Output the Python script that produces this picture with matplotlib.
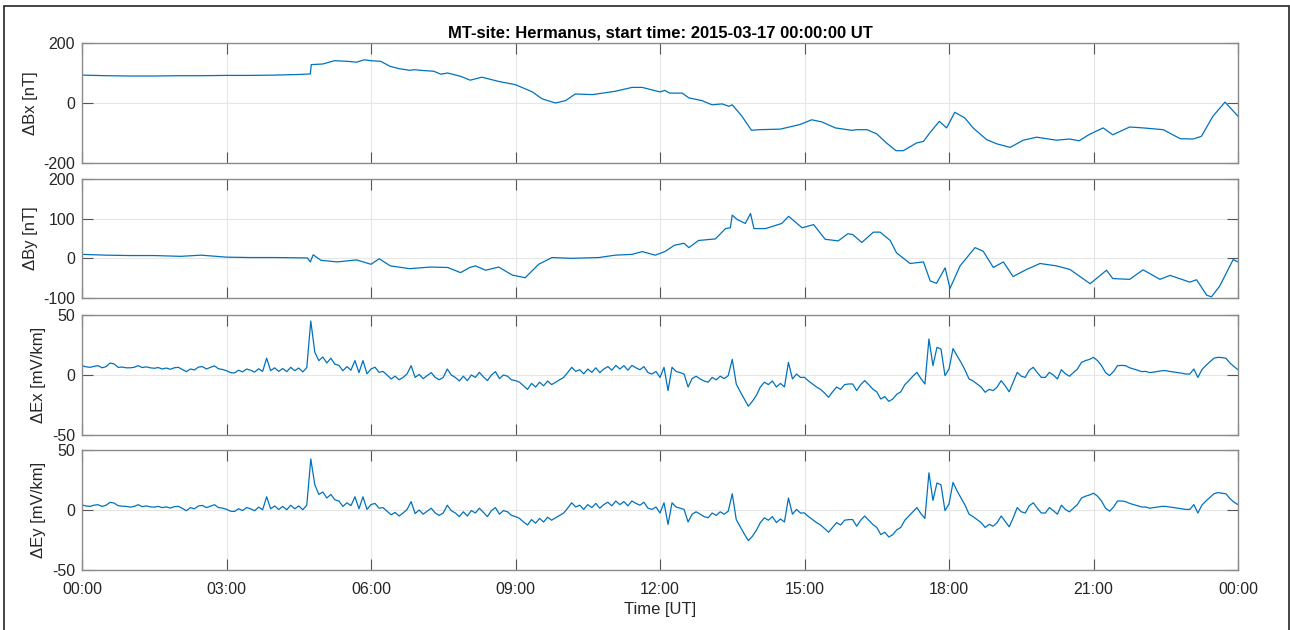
import numpy as np
import matplotlib.pyplot as plt
from matplotlib.patches import Rectangle

plt.rcParams['font.family'] = ['Liberation Sans', 'DejaVu Sans']
plt.rcParams['axes.unicode_minus'] = False

title = 'MT-site: Hermanus, start time: 2015-03-17 00:00:00 UT'
tick_hours = [0, 3, 6, 9, 12, 15, 18, 21, 24]
tick_labels = ['00:00', '03:00', '06:00', '09:00', '12:00', '15:00', '18:00', '21:00', '00:00']

# magnetic field, hours since start
bx_hours = [0, 0.5, 1, 1.5, 2, 2.5, 3, 3.5, 4, 4.5, 4.74, 4.76, 5.0, 5.24, 5.5, 5.7,
            5.86, 6.0, 6.2, 6.4, 6.6, 6.8, 6.9, 7.1, 7.3, 7.45, 7.59, 7.86, 8.06, 8.3,
            8.65, 9.0, 9.35, 9.55, 9.83, 10.04, 10.24, 10.6, 11.07, 11.42, 11.63, 12.0,
            12.1, 12.2, 12.46, 12.6, 12.87, 13.08, 13.29, 13.43, 13.5, 13.7, 13.9, 14.05,
            14.5, 14.9, 15.15, 15.36, 15.64, 15.98, 16.08, 16.3, 16.5, 16.7, 16.9, 17.05,
            17.33, 17.47, 17.6, 17.8, 17.95, 18.12, 18.33, 18.5, 18.78, 18.99, 19.27,
            19.54, 19.82, 20.23, 20.5, 20.7, 20.9, 21.2, 21.4, 21.75, 22.03, 22.45, 22.8,
            23.07, 23.24, 23.48, 23.73, 24.0]
bx_values = [93, 91, 90, 90, 91, 91, 92, 92, 93, 95, 97, 128, 130, 141, 139, 136,
             144, 141, 139, 122, 114, 109, 111, 108, 106, 96, 100, 89, 76, 86,
             72, 61, 37, 14, 0, 8, 30, 28, 39, 52, 52, 37,
             42, 33, 33, 17, 8, -6, -3, -11, -6, -44, -91, -89,
             -87, -72, -56, -63, -83, -91, -89, -89, -103, -133, -159, -159,
             -133, -128, -100, -61, -83, -31, -50, -83, -122, -136, -148,
             -124, -114, -124, -120, -126, -106, -83, -106, -80, -83, -89, -119,
             -120, -111, -44, 3, -44]

by_hours = [0, 0.5, 1, 1.5, 2.05, 2.47, 3, 3.5, 4, 4.68, 4.74, 4.8, 4.96, 5.3, 5.7,
            6.0, 6.17, 6.4, 6.8, 7.24, 7.59, 7.86, 8.05, 8.17, 8.38, 8.65, 8.93, 9.2,
            9.48, 9.76, 10.18, 10.73, 11.07, 11.42, 11.63, 11.9, 12.1, 12.3, 12.5, 12.6,
            12.8, 13.15, 13.36, 13.46, 13.5, 13.6, 13.77, 13.88, 13.95, 14.19, 14.53,
            14.67, 14.95, 15.19, 15.43, 15.7, 15.9, 16.0, 16.19, 16.43, 16.57, 16.78,
            16.91, 17.19, 17.47, 17.61, 17.74, 17.92, 18.02, 18.23, 18.54, 18.71, 18.92,
            19.13, 19.33, 19.61, 19.89, 20.23, 20.51, 20.93, 21.27, 21.4, 21.75, 22.03,
            22.38, 22.59, 23.0, 23.14, 23.35, 23.45, 23.62, 23.9, 24.0]
by_values = [10, 8, 7, 7, 5, 8, 3, 2, 2, 1, -9, 9, -5, -9, -4,
             -15, -1, -19, -26, -22, -23, -36, -23, -19, -30, -22, -42, -49,
             -15, 2, 0, 2, 8, 10, 17, 8, 17, 33, 38, 27,
             45, 49, 75, 77, 109, 98, 88, 113, 75, 75, 88,
             106, 77, 85, 48, 44, 62, 60, 40, 66, 66, 45,
             14, -13, -9, -57, -63, -24, -76, -19, 27, 18, -23,
             -9, -46, -28, -13, -19, -28, -64, -30, -51, -53, -29,
             -53, -43, -60, -54, -93, -97, -70, -3, -9]

# electric field, 5-minute samples (one row per hour)
e_minutes = np.arange(0, 24 * 60 + 1, 5)
ex_values = [
    7.8, 6.8, 6.4, 7.2, 7.8, 6.0, 7.0, 10.0, 9.2, 6.4, 6.6, 6.0,
    6.0, 6.4, 7.8, 6.2, 6.8, 6.0, 5.6, 6.2, 5.0, 5.8, 4.8, 6.0,
    6.4, 4.6, 2.8, 5.0, 4.2, 6.6, 7.0, 5.0, 6.4, 7.6, 5.2, 4.6,
    3.6, 2.0, 1.7, 4.0, 2.6, 5.0, 4.0, 2.4, 5.2, 3.0, 14.0, 3.6,
    6.0, 3.0, 5.4, 2.8, 6.4, 3.6, 5.8, 2.6, 6.2, 45.0, 19.0, 12.0,
    15.0, 10.0, 14.0, 9.0, 8.0, 3.6, 7.0, 4.0, 12.0, 2.0, 12.0, 1.0,
    5.0, 6.5, 2.2, 3.0, 0.0, -3.3, -1.0, -4.0, -2.0, 1.0, 7.8, -2.0,
    0.5, -3.0, -0.5, 2.0, -2.0, -4.0, -2.0, 5.0, 0.0, -2.0, -5.0, -1.0,
    -4.7, 0.0, -2.0, 2.2, -1.5, -4.7, 0.0, 2.8, -3.0, 0.0, -1.0, -4.0,
    -4.7, -6.0, -9.0, -12.0, -7.0, -10.0, -6.0, -9.0, -5.0, -8.0, -6.0, -4.0,
    -2.0, 2.0, 6.4, 3.0, 4.4, 1.0, 5.0, 2.2, 6.0, 2.0, 5.0, 7.0,
    4.0, 8.0, 5.0, 7.8, 4.0, 8.0, 6.0, 4.4, 7.0, 2.0, 0.8, 3.0,
    -2.0, 6.4, -13.0, 6.4, 3.0, 2.0, 0.8, -10.0, -3.0, -1.0, -3.3, -5.0,
    -6.0, -2.0, -4.0, -1.0, -3.0, -0.5, 13.0, -7.5, -14.0, -20.0, -26.0, -22.0,
    -17.0, -10.0, -6.0, -8.0, -5.0, -10.0, -7.0, -10.0, 10.5, -3.3, 0.8, -2.0,
    -2.0, -5.0, -7.5, -10.0, -12.0, -15.0, -18.6, -14.0, -10.0, -12.0, -8.0, -7.5,
    -7.5, -13.0, -8.0, -4.7, -8.0, -11.7, -14.0, -20.0, -18.0, -22.0, -20.0, -16.0,
    -14.0, -8.0, -4.7, -1.0, 2.2, -3.0, -7.5, 30.0, 7.8, 23.0, 21.7, -0.5,
    5.0, 22.0, 16.0, 10.5, 4.0, -3.3, -5.0, -7.5, -10.0, -14.4, -12.0, -13.0,
    -10.0, -4.7, -9.0, -14.0, -6.0, 2.2, -1.0, -2.0, 4.0, 6.4, 2.0, -2.0,
    -2.0, 2.2, 0.0, -3.3, 4.4, 1.0, -1.0, 2.0, 5.0, 10.5, 12.0, 13.0,
    14.7, 12.0, 7.8, 2.0, -0.5, 3.0, 7.8, 8.0, 7.8, 6.0, 5.0, 4.0,
    2.8, 3.0, 2.0, 2.4, 3.0, 3.6, 3.6, 3.0, 2.5, 2.0, 1.5, 0.8,
    0.8, 5.0, -2.0, 4.4, 8.0, 11.0, 14.0, 14.7, 14.5, 13.9, 10.0, 7.0,
    4.4]
ey_values = [
    4.2, 3.4, 3.0, 4.0, 4.4, 3.0, 4.0, 6.4, 5.8, 3.6, 3.2, 3.0,
    2.4, 3.0, 4.4, 2.8, 3.4, 2.6, 2.4, 3.0, 2.0, 2.6, 1.6, 2.8,
    3.0, 1.4, -0.6, 2.0, 1.0, 3.4, 3.8, 2.0, 3.2, 4.4, 2.0, 1.6,
    0.6, -1.0, -1.2, 1.0, -0.4, 2.0, 1.0, -0.6, 2.4, 0.2, 11.0, 1.0,
    3.4, 0.4, 3.0, 0.2, 4.0, 1.0, 3.4, 0.2, 4.0, 42.5, 21.0, 13.0,
    15.0, 10.0, 13.0, 8.5, 7.5, 3.0, 6.0, 3.6, 11.0, 1.0, 11.0, 0.5,
    4.5, 5.5, 1.5, 2.0, -1.0, -4.0, -2.0, -5.0, -2.5, 0.5, 7.0, -3.0,
    0.0, -3.5, -1.0, 1.5, -2.5, -4.5, -2.5, 4.0, -0.5, -2.5, -5.5, -1.5,
    -5.0, -0.5, -2.5, 1.5, -2.0, -5.5, -0.5, 2.0, -3.5, -0.5, -1.5, -4.5,
    -5.5, -7.0, -10.0, -12.5, -8.0, -11.0, -7.0, -10.0, -6.0, -8.5, -6.5, -4.5,
    -2.5, 1.5, 6.0, 2.5, 4.0, 0.5, 4.5, 2.0, 5.5, 1.5, 4.5, 6.5,
    3.5, 7.5, 4.5, 7.0, 3.5, 7.5, 5.5, 4.0, 6.5, 1.5, 0.5, 2.5,
    -2.5, 6.0, -12.0, 6.0, 2.5, 1.5, 0.5, -10.0, -3.5, -1.5, -3.5, -5.5,
    -6.5, -2.5, -4.5, -1.5, -3.5, -1.0, 13.5, -8.0, -14.0, -20.0, -25.5, -22.0,
    -17.0, -10.5, -6.5, -8.5, -5.5, -10.5, -7.5, -10.0, 10.0, -3.5, 0.5, -2.5,
    -2.5, -5.5, -8.0, -10.5, -12.5, -15.5, -18.5, -14.5, -10.5, -12.5, -8.5, -8.0,
    -8.0, -13.5, -8.5, -5.0, -8.5, -12.0, -14.5, -20.5, -18.5, -22.5, -20.5, -16.5,
    -14.5, -8.5, -5.0, -1.5, 2.0, -3.0, -7.0, 31.0, 8.0, 22.5, 21.0, -0.5,
    5.0, 23.0, 16.0, 10.0, 4.0, -3.5, -5.5, -8.0, -10.5, -14.5, -12.0, -13.5,
    -10.5, -5.0, -9.5, -14.0, -6.5, 2.0, -1.5, -2.5, 3.5, 6.0, 1.5, -2.5,
    -2.5, 2.0, -0.5, -3.5, 4.0, 0.5, -1.5, 1.5, 4.5, 10.0, 11.5, 12.5,
    14.0, 11.5, 7.5, 1.5, -1.0, 2.5, 7.5, 7.5, 7.0, 5.5, 4.5, 3.5,
    2.5, 2.5, 1.5, 2.0, 2.5, 3.0, 3.0, 2.5, 2.0, 1.5, 1.0, 0.5,
    0.5, 4.5, -2.5, 4.0, 7.5, 10.5, 13.5, 14.5, 14.0, 13.5, 9.5, 6.5,
    4.5]
e_hours = e_minutes / 60.0

panels = [
    (bx_hours, bx_values, '\u0394Bx [nT]', [-200, 0, 200]),
    (by_hours, by_values, '\u0394By [nT]', [-100, 0, 100, 200]),
    (e_hours, ex_values, '\u0394Ex [mV/km]', [-50, 0, 50]),
    (e_hours, ey_values, '\u0394Ey [mV/km]', [-50, 0, 50]),
]

W, H = 1290, 630
fig = plt.figure(figsize=(W / 100, H / 100), dpi=100)
fig.patch.set_facecolor('white')

# axes boxes in pixels: (top, bottom)
boxes = [(43, 163), (179, 298), (315, 435), (450, 570)]
left_px, right_px = 82, 1238

line_color = '#0072BD'
axes = []
for (t, v, label, yt), (top, bot) in zip(panels, boxes):
    ax = fig.add_axes([left_px / W, 1 - bot / H, (right_px - left_px) / W, (bot - top) / H])
    ax.plot(t, v, color=line_color, lw=0.9)
    ax.set_xlim(0, 24)
    ax.set_ylim(yt[0], yt[-1])
    ax.set_yticks(yt)
    ax.set_xticks(tick_hours)
    ax.set_xticklabels(tick_labels)
    ax.grid(True, color='#e6e6e6', lw=0.8)
    ax.set_axisbelow(True)
    for s in ax.spines.values():
        s.set_color('#8a8a8a')
        s.set_linewidth(1.0)
    ax.tick_params(direction='in', length=8, width=0.8, color='#555555',
                   labelsize=11.5, labelcolor='#262626', top=True, right=True)
    ax.tick_params(axis='y', pad=5)
    ax.tick_params(axis='x', pad=9)
    ax.set_ylabel(label, fontsize=12, color='#262626', labelpad=4)
    axes.append(ax)

for ax in axes[:-1]:
    ax.tick_params(labelbottom=False)

axes[-1].set_xlabel('Time [UT]', fontsize=12, color='#262626', labelpad=3)
axes[0].set_title(title, fontsize=12, fontweight='bold', color='black', pad=4)

# outer frame
fig.patches.append(Rectangle((4 / W, 1 - 631 / H), (1289 - 4) / W, (631 - 6) / H,
                             transform=fig.transFigure, fill=False,
                             edgecolor='#262626', lw=1.2, clip_on=False))

fig.savefig('out.png', dpi=100)
